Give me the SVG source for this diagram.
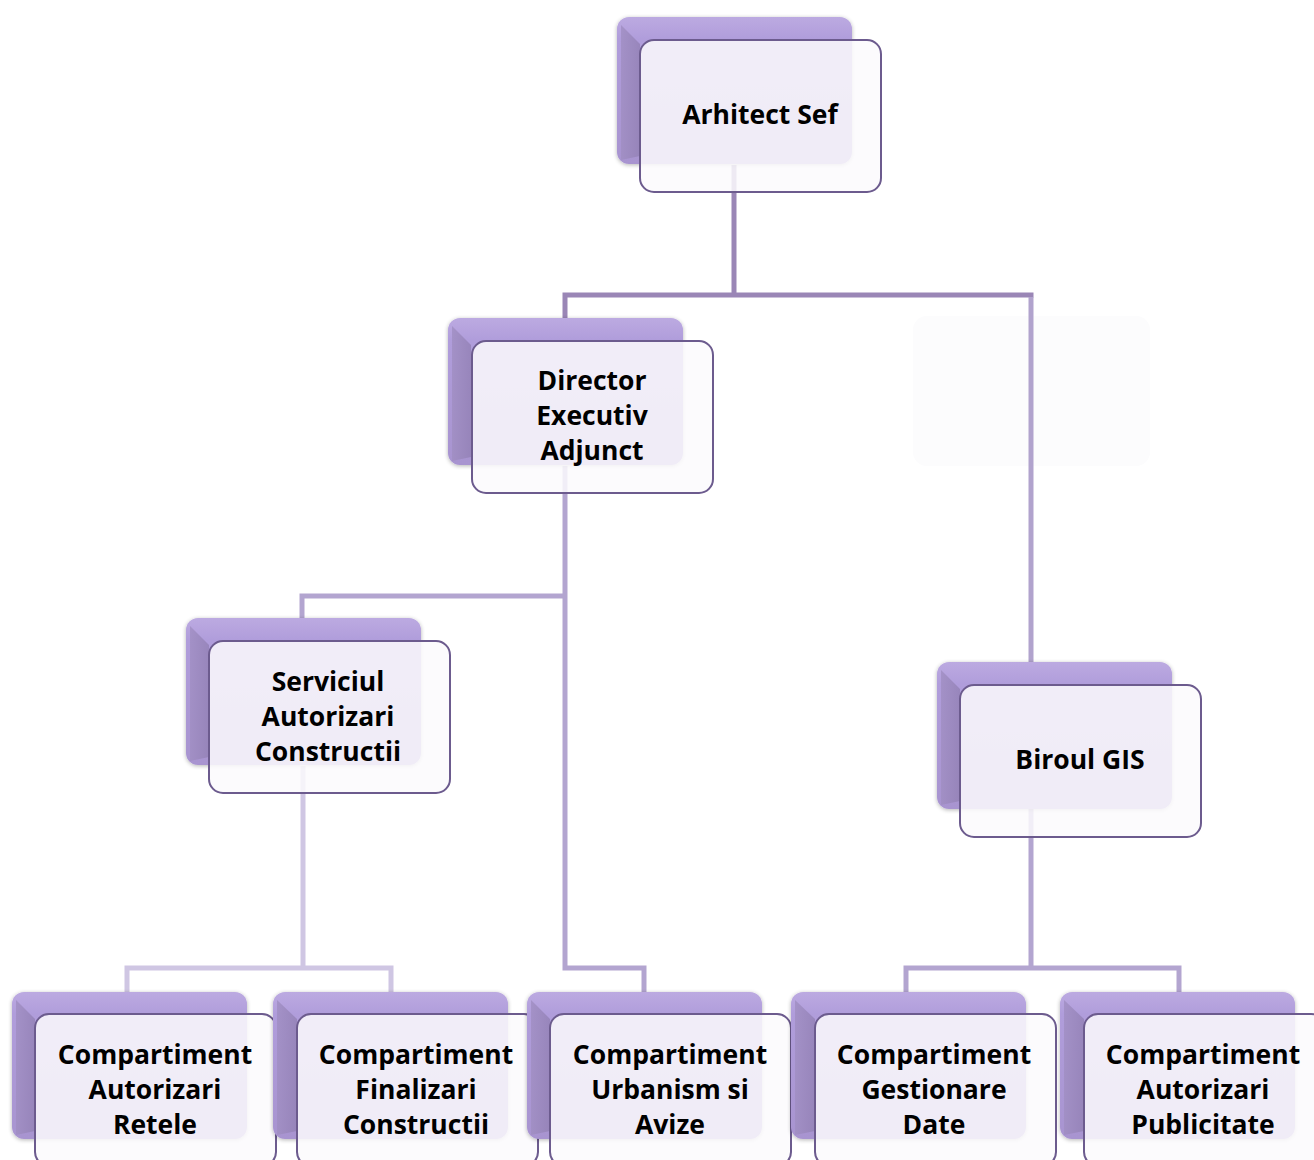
<svg xmlns="http://www.w3.org/2000/svg" width="1314" height="1160" viewBox="0 0 1314 1160">
<style>
.back{fill:url(#gBack);filter:url(#sh)}
.bevel{fill:url(#gBevel)}
.front{fill:#fbfafd;fill-opacity:0.86;stroke:#6c5b8e;stroke-width:2}
.lbl{font-family:"Open Sans","Liberation Sans",sans-serif;font-weight:700;font-size:26.5px;fill:#000;text-anchor:middle}
.c1{fill:none;stroke:#9a86b6;stroke-width:5}
.c1b{fill:none;stroke:#b1a3cd;stroke-width:5}
.c2{fill:none;stroke:#b3a5d0;stroke-width:5}
.c3{fill:none;stroke:#cfc6e3;stroke-width:5}
.ghost{fill:#fcfcfd}
</style>
<defs>
<linearGradient id="gBack" x1="0" y1="0" x2="0" y2="1">
<stop offset="0" stop-color="#bcaae1"/>
<stop offset="0.15" stop-color="#b09ddb"/>
<stop offset="1" stop-color="#a894d0"/>
</linearGradient>
<linearGradient id="gBevel" x1="0" y1="0" x2="1" y2="0">
<stop offset="0" stop-color="#a08ec2"/>
<stop offset="1" stop-color="#9280b4"/>
</linearGradient>
<filter id="sh" x="-10%" y="-10%" width="120%" height="120%">
<feGaussianBlur in="SourceAlpha" stdDeviation="2"/>
<feOffset dx="0" dy="1"/>
<feComponentTransfer><feFuncA type="linear" slope="0.3"/></feComponentTransfer>
<feMerge><feMergeNode/><feMergeNode in="SourceGraphic"/></feMerge>
</filter>
</defs>
<rect width="1314" height="1160" fill="#ffffff"/>
<rect class="ghost" x="913" y="316" width="237" height="150" rx="14"/>
<g id="connectors">
<path class="c1" d="M734 165 V295 M562.5 295 H1033.5 M565 295 V318"/>
<path class="c1b" d="M1031 297 V662"/>
<path class="c2" d="M565 466 V968 H644 V992 M565 596 H302 V618"/>
<path class="c3" d="M303 766 V968 M127 992 V968 H391 V992"/>
<path class="c2" d="M1031 809 V968 M906 992 V968 H1179 V992"/>
</g>
<g id="arhitect-sef">
<rect class="back" x="617" y="17" width="235" height="147" rx="12"/>
<path class="bevel" d="M621 25 L640 44 V156 L621 160 Z" opacity="0.8"/>
<rect class="front" x="640" y="40" width="241" height="152" rx="14"/>
<text class="lbl" x="760" y="124">Arhitect Sef</text>
</g>
<g id="director-executiv-adjunct">
<rect class="back" x="448" y="318" width="235" height="147" rx="12"/>
<path class="bevel" d="M452 326 L471 345 V457 L452 461 Z" opacity="0.8"/>
<rect class="front" x="472" y="341" width="241" height="152" rx="14"/>
<text class="lbl" x="592" y="390">Director</text>
<text class="lbl" x="592" y="425">Executiv</text>
<text class="lbl" x="592" y="460">Adjunct</text>
</g>
<g id="serviciul-autorizari-constructii">
<rect class="back" x="186" y="618" width="235" height="147" rx="12"/>
<path class="bevel" d="M190 626 L209 645 V757 L190 761 Z" opacity="0.8"/>
<rect class="front" x="209" y="641" width="241" height="152" rx="14"/>
<text class="lbl" x="328" y="691">Serviciul</text>
<text class="lbl" x="328" y="726">Autorizari</text>
<text class="lbl" x="328" y="761">Constructii</text>
</g>
<g id="biroul-gis">
<rect class="back" x="937" y="662" width="235" height="147" rx="12"/>
<path class="bevel" d="M941 670 L960 689 V801 L941 805 Z" opacity="0.8"/>
<rect class="front" x="960" y="685" width="241" height="152" rx="14"/>
<text class="lbl" x="1080" y="769">Biroul GIS</text>
</g>
<g id="compartiment-autorizari-retele">
<rect class="back" x="12" y="992" width="235" height="147" rx="12"/>
<path class="bevel" d="M16 1000 L35 1019 V1131 L16 1135 Z" opacity="0.8"/>
<rect class="front" x="35" y="1014" width="241" height="152" rx="14"/>
<text class="lbl" x="155" y="1064">Compartiment</text>
<text class="lbl" x="155" y="1099">Autorizari</text>
<text class="lbl" x="155" y="1134">Retele</text>
</g>
<g id="compartiment-finalizari-constructii">
<rect class="back" x="273" y="992" width="235" height="147" rx="12"/>
<path class="bevel" d="M277 1000 L297 1019 V1131 L277 1135 Z" opacity="0.8"/>
<rect class="front" x="297" y="1014" width="241" height="152" rx="14"/>
<text class="lbl" x="416" y="1064">Compartiment</text>
<text class="lbl" x="416" y="1099">Finalizari</text>
<text class="lbl" x="416" y="1134">Constructii</text>
</g>
<g id="compartiment-urbanism-si-avize">
<rect class="back" x="527" y="992" width="235" height="147" rx="12"/>
<path class="bevel" d="M531 1000 L550 1019 V1131 L531 1135 Z" opacity="0.8"/>
<rect class="front" x="550" y="1014" width="241" height="152" rx="14"/>
<text class="lbl" x="670" y="1064">Compartiment</text>
<text class="lbl" x="670" y="1099">Urbanism si</text>
<text class="lbl" x="670" y="1134">Avize</text>
</g>
<g id="compartiment-gestionare-date">
<rect class="back" x="791" y="992" width="235" height="147" rx="12"/>
<path class="bevel" d="M795 1000 L815 1019 V1131 L795 1135 Z" opacity="0.8"/>
<rect class="front" x="815" y="1014" width="241" height="152" rx="14"/>
<text class="lbl" x="934" y="1064">Compartiment</text>
<text class="lbl" x="934" y="1099">Gestionare</text>
<text class="lbl" x="934" y="1134">Date</text>
</g>
<g id="compartiment-autorizari-publicitate">
<rect class="back" x="1060" y="992" width="235" height="147" rx="12"/>
<path class="bevel" d="M1064 1000 L1084 1019 V1131 L1064 1135 Z" opacity="0.8"/>
<rect class="front" x="1084" y="1014" width="241" height="152" rx="14"/>
<text class="lbl" x="1203" y="1064">Compartiment</text>
<text class="lbl" x="1203" y="1099">Autorizari</text>
<text class="lbl" x="1203" y="1134">Publicitate</text>
</g>
</svg>
